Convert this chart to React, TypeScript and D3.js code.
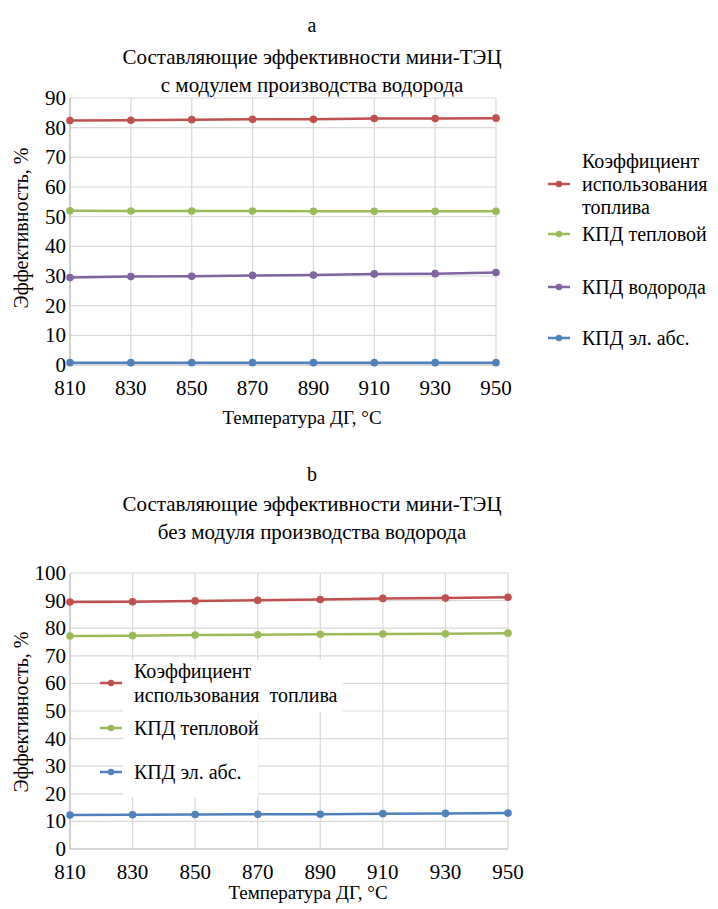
import React, { useEffect, useRef } from 'react';
import * as d3 from 'd3';

const temps = [810, 830, 850, 870, 890, 910, 930, 950];

// chart a: with hydrogen module
const fuelA = [82.4, 82.5, 82.7, 82.8, 82.8, 83.1, 83.1, 83.2];
const heatA = [52.0, 51.9, 51.9, 51.9, 51.8, 51.8, 51.8, 51.8];
const hydroA = [29.5, 29.8, 29.9, 30.2, 30.3, 30.7, 30.8, 31.2];
const elecA = [0.8, 0.8, 0.8, 0.8, 0.8, 0.8, 0.8, 0.8];

// chart b: without hydrogen module
const fuelB = [89.5, 89.6, 89.9, 90.1, 90.4, 90.8, 90.9, 91.2];
const heatB = [77.2, 77.3, 77.5, 77.6, 77.8, 77.9, 78.0, 78.2];
const elecB = [12.3, 12.4, 12.5, 12.6, 12.6, 12.8, 12.9, 13.0];

const ticksA = [0, 10, 20, 30, 40, 50, 60, 70, 80, 90];
const ticksB = [0, 10, 20, 30, 40, 50, 60, 70, 80, 90, 100];

const RED = '#c0504d';
const GREEN = '#9bbb59';
const PURPLE = '#8064a2';
const BLUE = '#4f81bd';
const SERIF = '"Liberation Serif", "Times New Roman", Tinos, serif';

type Series = { values: number[]; color: string };

const Plot = ({ series, yTicks, yMax, left, right, top, bottom }: {
  series: Series[]; yTicks: number[]; yMax: number;
  left: number; right: number; top: number; bottom: number;
}) => {
  const x = d3.scaleLinear().domain([810, 950]).range([left, right]);
  const y = d3.scaleLinear().domain([0, yMax]).range([bottom, top]);
  const ln = d3.line<number>().x((_, i) => x(temps[i])).y((v) => y(v));
  return (
    <g>
      {yTicks.map((t) => (
        <line key={'h' + t} x1={left} x2={right} y1={y(t)} y2={y(t)} stroke="#d9d9d9" strokeWidth={1.2} />
      ))}
      {temps.map((t) => (
        <line key={'v' + t} x1={x(t)} x2={x(t)} y1={top} y2={bottom} stroke="#d9d9d9" strokeWidth={1.2} />
      ))}
      <line x1={left} x2={right} y1={bottom} y2={bottom} stroke="#bfbfbf" strokeWidth={1.2} />
      <line x1={left} x2={left} y1={top} y2={bottom} stroke="#bfbfbf" strokeWidth={1.2} />
      {yTicks.map((t) => (
        <text key={'yl' + t} x={left - 4} y={y(t) + 7} textAnchor="end" fontSize={21}>{t}</text>
      ))}
      {temps.map((t) => (
        <text key={'xl' + t} x={x(t)} y={bottom + 30} textAnchor="middle" fontSize={21}>{t}</text>
      ))}
      {series.map((s, k) => (
        <g key={k}>
          <path d={ln(s.values) || ''} fill="none" stroke={s.color} strokeWidth={2.5} />
          {s.values.map((v, i) => (
            <circle key={i} cx={x(temps[i])} cy={y(v)} r={3.8} fill={s.color} />
          ))}
        </g>
      ))}
    </g>
  );
};

const LegendItem = ({ x, y, color, lines, dy = 23 }: { x: number; y: number; color: string; lines: string[]; dy?: number }) => (
  <g>
    <line x1={x} x2={x + 22} y1={y} y2={y} stroke={color} strokeWidth={2.5} />
    <circle cx={x + 11} cy={y} r={3.2} fill={color} />
    <text x={x + 34} y={y + 7 - ((lines.length - 1) * dy) / 2} fontSize={20}>
      {lines.map((l, i) => (
        <tspan key={i} x={x + 34} dy={i === 0 ? 0 : dy}>{l}</tspan>
      ))}
    </text>
  </g>
);

const App = () => {
  const svgRef = useRef<SVGSVGElement>(null);

  useEffect(() => {
    // force serif face on every label
    d3.select(svgRef.current)
      .selectAll('text, tspan')
      .attr('font-family', SERIF)
      .style('font-family', SERIF, 'important')
      .style('white-space', 'pre')
      .attr('fill', '#000');
  }, []);

  return (
    <svg ref={svgRef} width={702} height={900} fontFamily={SERIF} style={{ display: 'block', fontFamily: SERIF }}>
      <rect width={702} height={900} fill="#fff" />
      {/* chart a */}
      <text x={304} y={24} textAnchor="middle" fontSize={20}>a</text>
      <text x={304} y={56} textAnchor="middle" fontSize={21}>Составляющие эффективности мини-ТЭЦ</text>
      <text x={304} y={84} textAnchor="middle" fontSize={21}>с модулем производства водорода</text>
      <Plot
        series={[
          { values: fuelA, color: RED },
          { values: heatA, color: GREEN },
          { values: hydroA, color: PURPLE },
          { values: elecA, color: BLUE },
        ]}
        yTicks={ticksA} yMax={90} left={62} right={488} top={90} bottom={357}
      />
      <text transform="translate(20,220) rotate(-90)" textAnchor="middle" fontSize={20}>Эффективность, %</text>
      <text x={294} y={416} textAnchor="middle" fontSize={19}>Температура ДГ, °С</text>
      <LegendItem x={540} y={176} color={RED} lines={['Коэффициент', 'использования', 'топлива']} />
      <LegendItem x={540} y={226} color={GREEN} lines={['КПД тепловой']} />
      <LegendItem x={540} y={279} color={PURPLE} lines={['КПД водорода']} />
      <LegendItem x={540} y={330} color={BLUE} lines={['КПД эл. абс.']} />

      {/* chart b */}
      <text x={304} y={473} textAnchor="middle" fontSize={20}>b</text>
      <text x={304} y={503} textAnchor="middle" fontSize={21}>Составляющие эффективности мини-ТЭЦ</text>
      <text x={304} y={531} textAnchor="middle" fontSize={21}>без модуля производства водорода</text>
      <Plot
        series={[
          { values: fuelB, color: RED },
          { values: heatB, color: GREEN },
          { values: elecB, color: BLUE },
        ]}
        yTicks={ticksB} yMax={100} left={62} right={500} top={565} bottom={841}
      />
      <text transform="translate(20,704) rotate(-90)" textAnchor="middle" fontSize={20}>Эффективность, %</text>
      <text x={300} y={891} textAnchor="middle" fontSize={19}>Температура ДГ, °С</text>
      <rect x={115} y={652} width={220} height={52} fill="#fff" />
      <rect x={115} y={704} width={135} height={85} fill="#fff" />
      <LegendItem x={92} y={675} color={RED} lines={['Коэффициент', 'использования  топлива']} dy={24} />
      <LegendItem x={92} y={720} color={GREEN} lines={['КПД тепловой']} />
      <LegendItem x={92} y={764} color={BLUE} lines={['КПД эл. абс.']} />
    </svg>
  );
};

export default App;
